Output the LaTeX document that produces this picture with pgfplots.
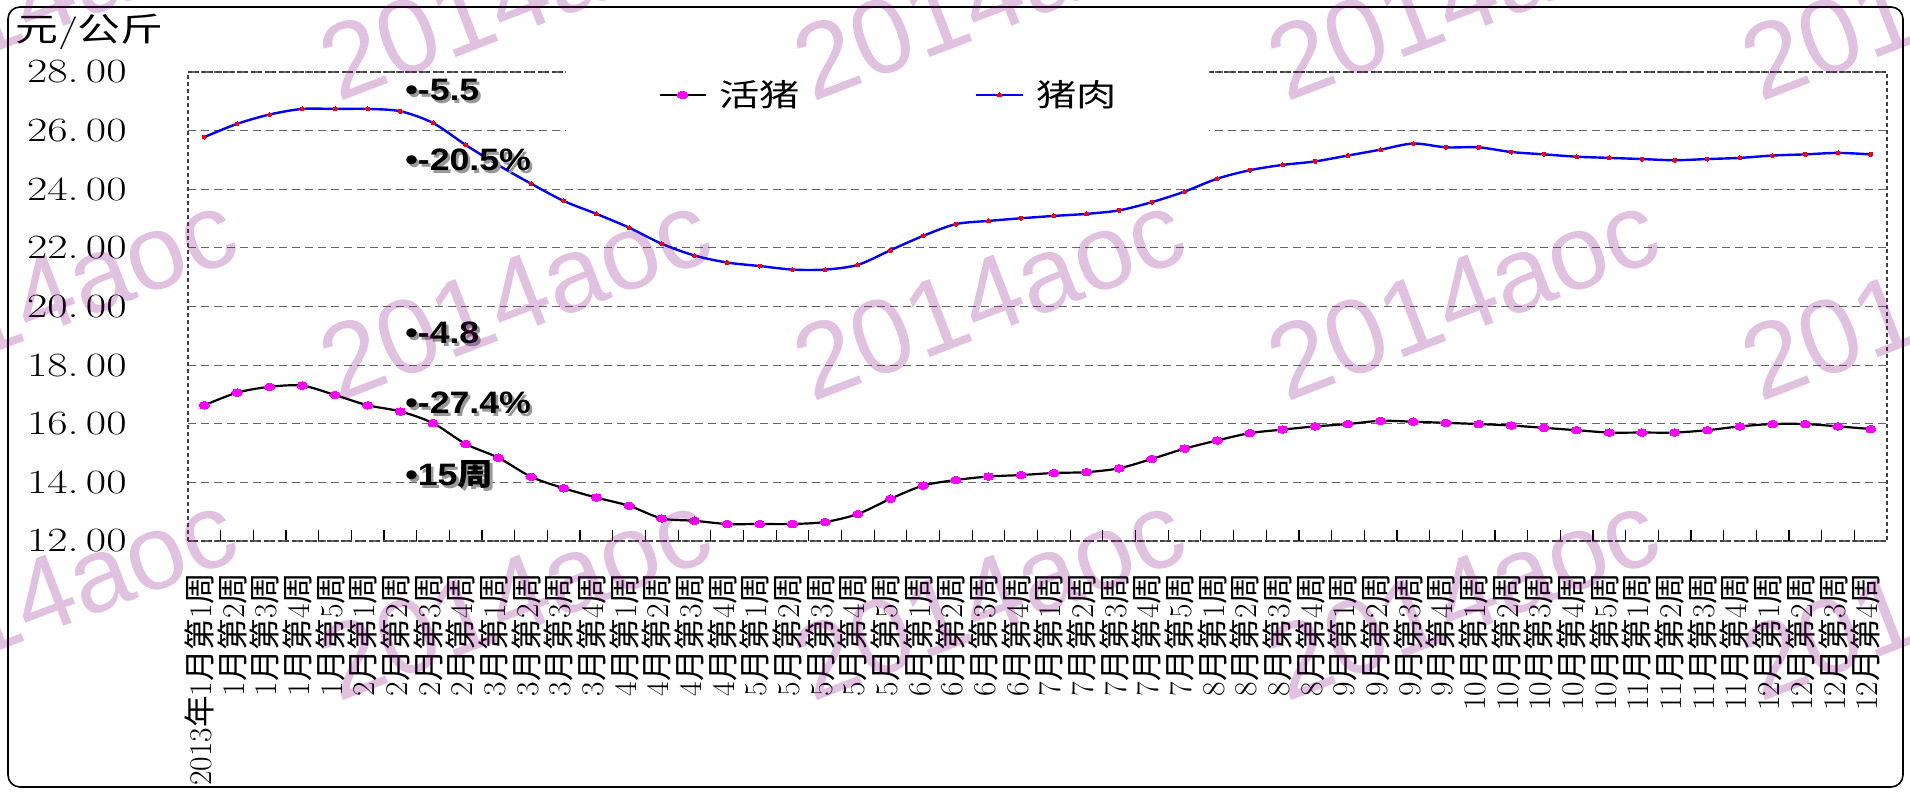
\documentclass[border=0pt]{standalone}
\usepackage{fontspec}
\usepackage{pgfplots}
\pgfplotsset{compat=1.18}
\usepackage{graphicx}
\newfontfamily\cjk{Noto Sans CJK SC}
\newfontfamily\sans{Liberation Sans}
\definecolor{wm}{RGB}{128,0,128}
\definecolor{mag}{RGB}{255,0,255}
\definecolor{pred}{RGB}{255,0,0}
\definecolor{pblue}{RGB}{0,0,255}
\newcommand\wk[2]{#1{\cjk 月第}#2{\cjk 周}}
\newcommand\yl[1]{\scalebox{1.3}[1]{#1.\,00}}
\newcommand\ann[2]{%
  \node[anchor=west, inner sep=0pt, text=black!40, font=\sans\bfseries\fontsize{15.5}{16}\selectfont] at (203.8pt,{#1pt-1.3pt}) {\scalebox{1.15}[1]{#2}};
  \node[anchor=west, inner sep=0pt, text=black, font=\sans\bfseries\fontsize{15.5}{16}\selectfont] at (202.5pt,#1pt) {\scalebox{1.15}[1]{#2}};}

\begin{document}
\begin{tikzpicture}
\useasboundingbox (0,0) rectangle (955pt,396pt);
\begin{axis}[
  at={(94pt,125.5pt)}, anchor=south west,
  width=849.5pt, height=234.5pt, scale only axis,
  xmin=-0.5, xmax=51.5, ymin=12, ymax=28,
  xtick={0,...,51},
  minor xtick={0.5,1.5,...,50.5},
  ytick={12,14,...,28},
  major tick length=0pt, minor tick length=5.5pt,
  tick align=inside, xtick pos=left, ytick pos=left,
  tick style={black, line width=0.6pt},
  ymajorgrids,
  major grid style={dash pattern=on 4pt off 2.5pt, black!60, line width=0.6pt},
  axis line style={dash pattern=on 2pt off 1.5pt, black!75, line width=0.6pt},
  yticklabels={\yl{12},\yl{14},\yl{16},\yl{18},\yl{20},\yl{22},\yl{24},\yl{26},\yl{28}},
  yticklabel style={anchor=east, inner sep=0pt, font=\fontsize{17}{17}\selectfont},
  yticklabel shift=30.5pt,
  xticklabels={
    {2013{\cjk 年}1{\cjk 月第}1{\cjk 周}},
    \wk{1}{2},\wk{1}{3},\wk{1}{4},\wk{1}{5},
    \wk{2}{1},\wk{2}{2},\wk{2}{3},\wk{2}{4},
    \wk{3}{1},\wk{3}{2},\wk{3}{3},\wk{3}{4},
    \wk{4}{1},\wk{4}{2},\wk{4}{3},\wk{4}{4},
    \wk{5}{1},\wk{5}{2},\wk{5}{3},\wk{5}{4},\wk{5}{5},
    \wk{6}{1},\wk{6}{2},\wk{6}{3},\wk{6}{4},
    \wk{7}{1},\wk{7}{2},\wk{7}{3},\wk{7}{4},\wk{7}{5},
    \wk{8}{1},\wk{8}{2},\wk{8}{3},\wk{8}{4},
    \wk{9}{1},\wk{9}{2},\wk{9}{3},\wk{9}{4},
    \wk{10}{1},\wk{10}{2},\wk{10}{3},\wk{10}{4},\wk{10}{5},
    \wk{11}{1},\wk{11}{2},\wk{11}{3},\wk{11}{4},
    \wk{12}{1},\wk{12}{2},\wk{12}{3},\wk{12}{4}},
  xticklabel style={xshift=-2.5pt, rotate=90, anchor=east, inner sep=0pt, font=\fontsize{15.8}{15.8}\selectfont},
  xticklabel shift=15.5pt,
  legend image code/.code={\draw[mark repeat=2,mark phase=2] plot coordinates {(0pt,0pt) (11.5pt,0pt) (23pt,0pt)};},
  legend columns=2,
  legend style={at={(0.2225,0.951)}, anchor=west, draw=none, fill=white,
    inner xsep=46pt, inner ysep=24pt,
    font=\cjk\fontsize{15.5}{16}\selectfont,
    nodes={inner sep=0pt},
    /tikz/every odd column/.append style={column sep=6.5pt},
    /tikz/every even column/.append style={column sep=87.5pt}},
]
\addplot[black, line width=1.1pt, smooth, tension=0.5, mark=*, mark size=1.9pt,
  mark options={solid, draw=mag, fill=mag, line width=0pt, xscale=1.35}] table {
x y
0 16.63
1 17.06
2 17.26
3 17.30
4 16.98
5 16.63
6 16.42
7 16.02
8 15.31
9 14.84
10 14.19
11 13.80
12 13.48
13 13.20
14 12.77
15 12.69
16 12.58
17 12.58
18 12.58
19 12.65
20 12.92
21 13.44
22 13.89
23 14.08
24 14.20
25 14.25
26 14.32
27 14.35
28 14.48
29 14.80
30 15.15
31 15.43
32 15.68
33 15.80
34 15.91
35 15.99
36 16.10
37 16.07
38 16.03
39 15.99
40 15.94
41 15.86
42 15.78
43 15.70
44 15.70
45 15.70
46 15.78
47 15.91
48 15.99
49 15.99
50 15.91
51 15.82
};
\addlegendentry{\scalebox{1.3}[1]{活猪}}
\addplot[pblue, line width=1.2pt, smooth, tension=0.5, mark=*, mark size=1pt,
  mark options={solid, draw=pred, fill=pred, line width=0pt}] table {
x y
0 25.78
1 26.23
2 26.55
3 26.74
4 26.74
5 26.74
6 26.66
7 26.26
8 25.51
9 24.82
10 24.19
11 23.60
12 23.16
13 22.69
14 22.14
15 21.74
16 21.50
17 21.38
18 21.26
19 21.26
20 21.42
21 21.92
22 22.41
23 22.81
24 22.92
25 23.01
26 23.09
27 23.16
28 23.28
29 23.56
30 23.92
31 24.36
32 24.65
33 24.83
34 24.95
35 25.15
36 25.35
37 25.56
38 25.43
39 25.43
40 25.27
41 25.19
42 25.11
43 25.07
44 25.03
45 24.99
46 25.03
47 25.07
48 25.15
49 25.19
50 25.24
51 25.19
};
\addlegendentry{\scalebox{1.3}[1]{猪肉}}
\end{axis}
% y-axis title
\node[anchor=west, inner sep=0pt, font=\fontsize{16.5}{17}\selectfont] at (7.5pt,380pt) {\scalebox{1.3}[1]{{\cjk 元}/{\cjk 公斤}}};
% annotations
\ann{351}{•-5.5}
\ann{316}{•-20.5\%}
\ann{229.5}{•-4.8}
\ann{194.5}{•-27.4\%}
\ann{158.5}{•15{\cjk\bfseries 周}}
% outer frame
\draw[line width=0.8pt, rounded corners=6pt] (4pt,2.5pt) rectangle (951.5pt,392.5pt);
% watermark
\foreach \i in {-1,0,1,2,3}{
  \foreach \j in {0,1,2}{
    \node[anchor=base west, rotate=21, inner sep=0pt, text=wm, opacity=0.245,
      font=\sans\fontsize{53}{53}\selectfont] at ({169pt+237pt*\i},{344.5pt-150pt*\j}) {2014aoc};
  }
}
\end{tikzpicture}
\end{document}
